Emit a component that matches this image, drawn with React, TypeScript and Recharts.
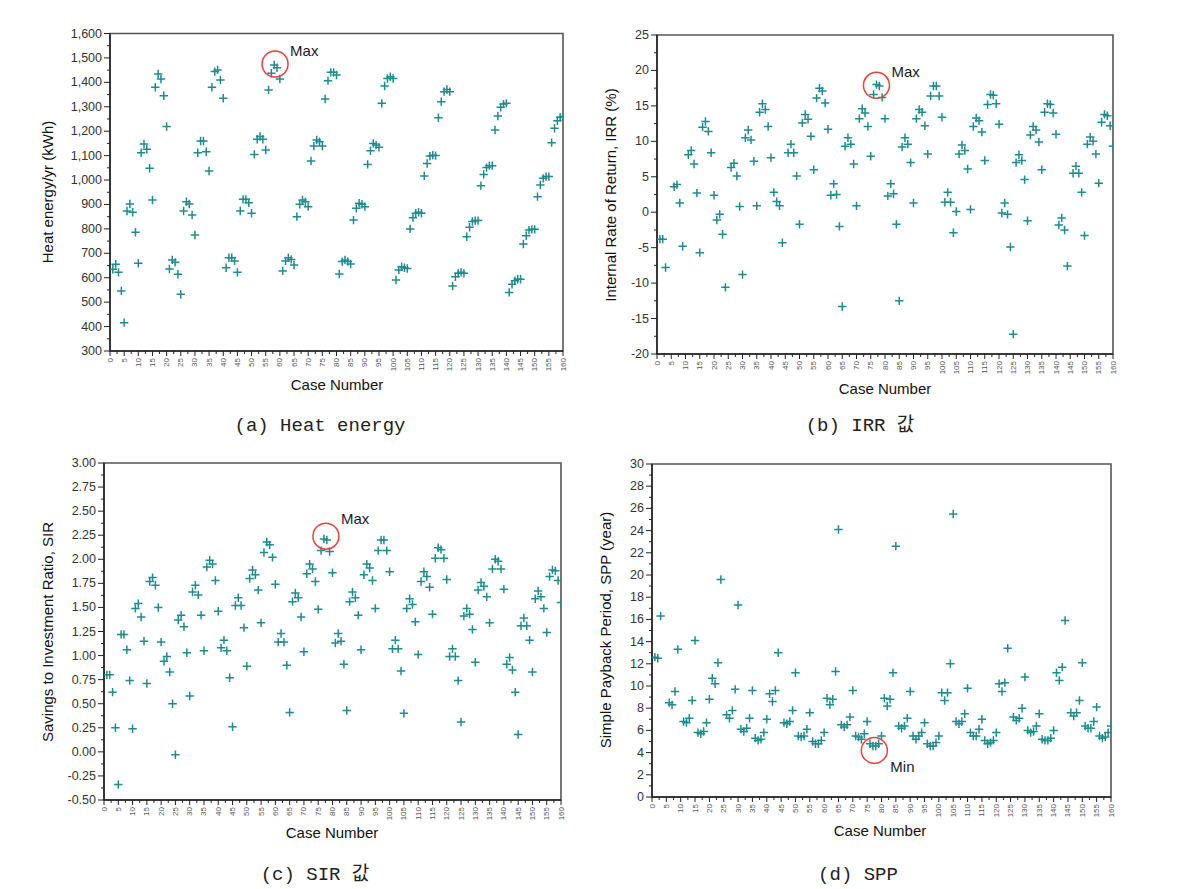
import React from 'react';
import { ScatterChart, Scatter, XAxis, YAxis, ReferenceArea, ReferenceDot } from 'recharts';

const TEAL = '#1e8c8c';
const AXIS = '#222';
const FRAME = '#555';
const SANS = '"Liberation Sans", Arial, sans-serif';
const CAPTION_FONT = '"Liberation Mono", "Noto Sans CJK KR", monospace';

// Case numbers (x) 1..160
const caseNumbers: number[] = Array.from({ length: 160 }, (_, i) => i + 1);

// (a) Heat energy/yr (kWh)
const heatEnergy: number[] = [
  635, 655, 622, 546, 416, 873, 902, 868, 786, 659, 1112, 1148, 1126, 1048, 918, 1380, 1434, 1414, 1345, 1219,
  636, 673, 663, 614, 532, 873, 911, 902, 857, 775, 1112, 1160, 1160, 1116, 1037, 1380, 1444, 1451, 1410, 1335,
  641, 682, 682, 669, 622, 873, 921, 921, 907, 864, 1105, 1167, 1178, 1167, 1123, 1369, 1437, 1471, 1460, 1414,
  628, 669, 682, 675, 652, 850, 901, 918, 911, 891, 1078, 1139, 1164, 1157, 1139, 1332, 1407, 1441, 1441, 1430,
  615, 666, 673, 666, 656, 836, 884, 905, 901, 891, 1064, 1120, 1150, 1143, 1134, 1314, 1385, 1416, 1423, 1416,
  591, 632, 645, 641, 638, 800, 846, 864, 868, 864, 1017, 1068, 1098, 1102, 1100, 1255, 1321, 1362, 1371, 1362,
  566, 604, 618, 622, 618, 768, 807, 830, 834, 834, 977, 1023, 1051, 1059, 1059, 1205, 1262, 1298, 1311, 1314,
  540, 573, 588, 594, 594, 738, 772, 795, 798, 798, 932, 980, 1007, 1014, 1014, 1153, 1212, 1243, 1257, 1260,
];

// (b) IRR (%)
const irrValues: (number | null)[] = [
  -3.8, -3.8, -7.8, null, null, 3.6, 3.9, 1.3, -4.8, null,
  8.1, 8.7, 6.8, 2.7, -5.7, 12.0, 12.8, 11.4, 8.4, 2.4,
  -1.1, -0.3, -3.1, -10.6, null, 6.3, 6.9, 5.1, 0.8, -8.8,
  10.5, 11.6, 10.2, 7.2, 0.9, 14.1, 15.3, 14.5, 12.1, 7.7,
  2.8, 1.5, 0.9, -4.3, null, 8.4, 9.6, 8.4, 5.1, -1.7,
  12.6, 13.8, 13.1, 10.7, 6.0, 16.1, 17.5, 17.1, 15.4, 11.7,
  2.4, 4.0, 2.5, -2.0, -13.3, 9.3, 10.5, 9.6, 6.8, 0.9,
  13.2, 14.6, 14.0, 12.1, 7.9, 16.6, 18.0, 17.8, 16.2, 13.2,
  2.3, 4.0, 2.6, -1.7, -12.5, 9.2, 10.5, 9.6, 7.0, 1.3,
  13.2, 14.5, 14.1, 12.2, 8.2, 16.4, 17.8, 17.8, 16.4, 13.4,
  1.4, 2.8, 1.4, -2.9, 0.1, 8.2, 9.5, 8.7, 6.1, 0.4,
  12.1, 13.3, 12.9, 11.3, 7.3, 15.2, 16.6, 16.5, 15.3, 12.4,
  -0.1, 1.3, -0.3, -4.9, -17.2, 7.0, 8.1, 7.3, 4.6, -1.2,
  10.9, 12.1, 11.6, 9.9, 6.0, 14.1, 15.3, 15.2, 14.0, 11.0,
  -1.8, -0.8, -2.5, -7.6, null, 5.5, 6.5, 5.5, 2.8, -3.3,
  9.6, 10.6, 10.0, 8.2, 4.1, 12.7, 13.8, 13.6, 12.2, 9.3,
];

// (c) SIR
const sirValues: number[] = [
  0.80, 0.80, 0.62, 0.25, -0.34, 1.22, 1.22, 1.06, 0.74, 0.24,
  1.49, 1.54, 1.40, 1.15, 0.71, 1.77, 1.81, 1.73, 1.50, 1.14,
  0.94, 0.99, 0.83, 0.50, -0.03, 1.37, 1.42, 1.30, 1.03, 0.58,
  1.66, 1.73, 1.63, 1.42, 1.05, 1.92, 1.99, 1.95, 1.78, 1.46,
  1.08, 1.16, 1.05, 0.77, 0.26, 1.52, 1.60, 1.52, 1.29, 0.89,
  1.80, 1.89, 1.84, 1.68, 1.34, 2.07, 2.18, 2.15, 2.02, 1.74,
  1.14, 1.23, 1.14, 0.90, 0.41, 1.56, 1.65, 1.60, 1.40, 1.04,
  1.85, 1.95, 1.90, 1.77, 1.48, 2.09, 2.21, 2.20, 2.08, 1.86,
  1.13, 1.23, 1.15, 0.91, 0.43, 1.56, 1.66, 1.60, 1.42, 1.06,
  1.84, 1.95, 1.91, 1.78, 1.49, 2.09, 2.20, 2.20, 2.09, 1.87,
  1.07, 1.16, 1.07, 0.84, 0.40, 1.49, 1.59, 1.53, 1.35, 1.01,
  1.77, 1.87, 1.82, 1.71, 1.43, 2.01, 2.12, 2.10, 2.01, 1.79,
  0.99, 1.07, 0.99, 0.74, 0.31, 1.41, 1.49, 1.43, 1.27, 0.93,
  1.68, 1.76, 1.72, 1.61, 1.34, 1.90, 2.00, 1.98, 1.90, 1.69,
  0.91, 0.98, 0.85, 0.62, 0.18, 1.31, 1.39, 1.31, 1.16, 0.83,
  1.59, 1.67, 1.61, 1.49, 1.24, 1.82, 1.89, 1.88, 1.78, 1.55,
];

// (d) SPP (year)
const sppValues: (number | null)[] = [
  12.6, 12.5, 16.3, null, null, 8.5, 8.3, 9.5, 13.3, null,
  6.8, 6.7, 7.1, 8.7, 14.1, 5.8, 5.7, 5.9, 6.7, 8.8,
  10.7, 10.2, 12.1, 19.6, null, 7.4, 7.1, 7.8, 9.7, 17.3,
  6.1, 5.9, 6.2, 7.1, 9.6, 5.3, 5.1, 5.2, 5.8, 7.0,
  9.3, 8.6, 9.6, 13.0, null, 6.7, 6.6, 6.8, 7.8, 11.2,
  5.5, 5.4, 5.5, 6.1, 7.6, 5.0, 4.8, 4.8, 5.1, 5.8,
  8.9, 8.3, 8.8, 11.3, 24.1, 6.5, 6.3, 6.5, 7.2, 9.6,
  5.5, 5.4, 5.2, 5.7, 6.8, 4.8, 4.6, 4.6, 4.8, 5.5,
  8.9, 8.2, 8.8, 11.2, 22.6, 6.4, 6.2, 6.4, 7.1, 9.5,
  5.5, 5.2, 5.5, 5.8, 6.7, 4.8, 4.6, 4.6, 4.9, 5.5,
  9.4, 8.7, 9.4, 12.0, 25.5, 6.8, 6.6, 6.8, 7.5, 9.8,
  5.8, 5.5, 5.5, 6.1, 7.0, 5.1, 4.8, 4.9, 5.1, 5.8,
  10.2, 9.5, 10.3, 13.4, null, 7.2, 6.9, 7.1, 8.0, 10.8,
  6.0, 5.8, 5.9, 6.4, 7.5, 5.2, 5.1, 5.1, 5.3, 6.0,
  11.2, 10.5, 11.7, 15.9, null, 7.6, 7.3, 7.6, 8.7, 12.1,
  6.4, 6.2, 6.2, 6.8, 8.1, 5.5, 5.3, 5.4, 5.8, 6.4,
];

// Tick labels
const xMajorTicks = [0, 5, 10, 15, 20, 25, 30, 35, 40, 45, 50, 55, 60, 65, 70, 75, 80, 85, 90, 95, 100, 105, 110, 115, 120, 125, 130, 135, 140, 145, 150, 155, 160];
const heatTicks = [300, 400, 500, 600, 700, 800, 900, 1000, 1100, 1200, 1300, 1400, 1500, 1600];
const irrTicks = [-20, -15, -10, -5, 0, 5, 10, 15, 20, 25];
const sirTicks = [-0.5, -0.25, 0, 0.25, 0.5, 0.75, 1.0, 1.25, 1.5, 1.75, 2.0, 2.25, 2.5, 2.75, 3.0];
const sppTicks = [0, 2, 4, 6, 8, 10, 12, 14, 16, 18, 20, 22, 24, 26, 28, 30];

// Annotations [case, value]
const heatMax = { x: 58.3, y: 1475, label: 'Max' };
const irrMax = { x: 77, y: 17.9, label: 'Max' };
const sirMax = { x: 77.7, y: 2.24, label: 'Max' };
const sppMin = { x: 77.5, y: 4.2, label: 'Min' };

const withMinors = (majors: number[]) => {
  const out: number[] = [];
  majors.forEach((m, i) => {
    out.push(m);
    if (i < majors.length - 1) out.push((m + majors[i + 1]) / 2);
  });
  return out;
};

const toPoints = (vals: (number | null)[]) =>
  caseNumbers
    .map((c, i) => ({ case: c, v: vals[i] }))
    .filter((d) => d.v !== null && d.v !== undefined);

const Plus = (props: any) => {
  const { cx, cy } = props;
  if (cx == null || cy == null) return null;
  return (
    <path
      d={`M${cx - 4.2},${cy}H${cx + 4.2}M${cx},${cy - 4.2}V${cy + 4.2}`}
      stroke={TEAL}
      strokeWidth={1.5}
      fill="none"
    />
  );
};

type PanelProps = {
  left: number;
  top: number;
  width: number;
  height: number;
  plotL: number;
  plotR: number;
  plotT: number;
  plotB: number;
  data: { case: number; v: number | null }[];
  yTicks: number[];
  fmt: (v: number) => string;
  mark: { x: number; y: number; label: string };
  markDx: number;
  markDy: number;
};

const YW = 60;
const XH = 30;

const Panel = (p: PanelProps) => {
  const yMajors = p.yTicks;
  const yAll = withMinors(yMajors);
  const xAll = withMinors(xMajorTicks);
  const isMajor = (arr: number[], v: number) => arr.some((m) => Math.abs(m - v) < 1e-9);
  const yDomain: [number, number] = [yMajors[0], yMajors[yMajors.length - 1]];

  const yTick = (tp: any) => {
    const { x, y, payload } = tp;
    const major = isMajor(yMajors, payload.value);
    return (
      <g>
        <line x1={x} x2={x - (major ? 6 : 3)} y1={y} y2={y} stroke={AXIS} strokeWidth={1} />
        {major && (
          <text x={x - 8} y={y} textAnchor="end" dominantBaseline="central" fontSize={12.5} fill="#333" fontFamily={SANS}>
            {p.fmt(payload.value)}
          </text>
        )}
      </g>
    );
  };

  const xTick = (tp: any) => {
    const { x, y, payload } = tp;
    const major = isMajor(xMajorTicks, payload.value);
    return (
      <g>
        <line x1={x} x2={x} y1={y} y2={y + (major ? 5 : 3)} stroke={AXIS} strokeWidth={1} />
        {major && (
          <text
            x={x}
            y={y + 7}
            transform={`rotate(-90 ${x} ${y + 7})`}
            textAnchor="end"
            dominantBaseline="central"
            fontSize={8}
            fill="#555"
            fontFamily={SANS}
          >
            {payload.value}
          </text>
        )}
      </g>
    );
  };

  const markShape = (sp: any) => {
    const { cx, cy } = sp;
    return (
      <g>
        <circle cx={cx} cy={cy} r={13} fill="none" stroke="#e8403c" strokeWidth={1.5} />
        <text x={cx + p.markDx} y={cy + p.markDy} fontSize={15} fill="#1a1a2a" fontFamily={SANS}>
          {p.mark.label}
        </text>
      </g>
    );
  };

  return (
    <div style={{ position: 'absolute', left: p.left, top: p.top }}>
      <ScatterChart
        width={p.width}
        height={p.height}
        margin={{
          top: p.plotT - p.top,
          right: p.left + p.width - p.plotR,
          bottom: p.top + p.height - p.plotB - XH,
          left: p.plotL - p.left - YW,
        }}
      >
        <XAxis
          type="number"
          dataKey="case"
          domain={[0, 160]}
          ticks={xAll}
          interval={0}
          tickLine={false}
          tickSize={0}
          tickMargin={0}
          height={XH}
          axisLine={{ stroke: AXIS, strokeWidth: 1.5 }}
          tick={xTick}
          allowDataOverflow
        />
        <YAxis
          type="number"
          dataKey="v"
          domain={yDomain}
          ticks={yAll}
          interval={0}
          tickLine={false}
          tickSize={0}
          tickMargin={0}
          width={YW}
          axisLine={{ stroke: AXIS, strokeWidth: 1.5 }}
          tick={yTick}
          allowDataOverflow
        />
        <ReferenceArea
          x1={0}
          x2={160}
          y1={yDomain[0]}
          y2={yDomain[1]}
          fill="none"
          fillOpacity={0}
          stroke={FRAME}
          strokeWidth={1.6}
        />
        <Scatter data={p.data} fill={TEAL} shape={Plus} isAnimationActive={false} />
        <ReferenceDot x={p.mark.x} y={p.mark.y} r={13} shape={markShape} />
      </ScatterChart>
    </div>
  );
};

const Txt = (props: any) => <text {...props} />;

export default function App() {
  return (
    <div style={{ position: 'absolute', left: 0, top: 0, width: 1184, height: 889, background: '#fff' }}>
      <Panel
        left={0} top={0} width={590} height={420}
        plotL={110} plotR={563} plotT={33.5} plotB={351}
        data={toPoints(heatEnergy)}
        yTicks={heatTicks}
        fmt={(v) => v.toLocaleString('en-US')}
        mark={heatMax} markDx={15} markDy={-8}
      />
      <Panel
        left={590} top={0} width={594} height={420}
        plotL={657} plotR={1113} plotT={35} plotB={354}
        data={toPoints(irrValues)}
        yTicks={irrTicks}
        fmt={(v) => String(v)}
        mark={irrMax} markDx={15} markDy={-8}
      />
      <Panel
        left={0} top={440} width={590} height={420}
        plotL={104} plotR={561} plotT={463} plotB={800}
        data={toPoints(sirValues)}
        yTicks={sirTicks}
        fmt={(v) => v.toFixed(2)}
        mark={sirMax} markDx={15} markDy={-12}
      />
      <Panel
        left={590} top={440} width={594} height={420}
        plotL={652} plotR={1111} plotT={464} plotB={797}
        data={toPoints(sppValues)}
        yTicks={sppTicks}
        fmt={(v) => String(v)}
        mark={sppMin} markDx={16} markDy={22}
      />
      <svg width={1184} height={889} style={{ position: 'absolute', left: 0, top: 0, pointerEvents: 'none' }}>
        <g fontFamily={SANS} fontSize={15} fill="#111">
          <Txt x={47} y={192} textAnchor="middle" dominantBaseline="central" transform="rotate(-90 47 192)">Heat energy/yr (kWh)</Txt>
          <Txt x={610} y={195} textAnchor="middle" dominantBaseline="central" transform="rotate(-90 610 195)">Internal Rate of Return, IRR (%)</Txt>
          <Txt x={47} y={632} textAnchor="middle" dominantBaseline="central" transform="rotate(-90 47 632)">Savings to Investment Ratio, SIR</Txt>
          <Txt x={605} y={630} textAnchor="middle" dominantBaseline="central" transform="rotate(-90 605 630)">Simple Payback Period, SPP (year)</Txt>
          <Txt x={337} y={384} textAnchor="middle" dominantBaseline="central">Case Number</Txt>
          <Txt x={885} y={388} textAnchor="middle" dominantBaseline="central">Case Number</Txt>
          <Txt x={332} y={832} textAnchor="middle" dominantBaseline="central">Case Number</Txt>
          <Txt x={880} y={830} textAnchor="middle" dominantBaseline="central">Case Number</Txt>
        </g>
        <g fontFamily={CAPTION_FONT} fontSize={19} fill="#222">
          <Txt x={320} y={431} textAnchor="middle">(a) Heat energy</Txt>
          <Txt x={860} y={431} textAnchor="middle">(b) IRR 값</Txt>
          <Txt x={315} y={880} textAnchor="middle">(c) SIR 값</Txt>
          <Txt x={858} y={880} textAnchor="middle">(d) SPP</Txt>
        </g>
      </svg>
    </div>
  );
}
